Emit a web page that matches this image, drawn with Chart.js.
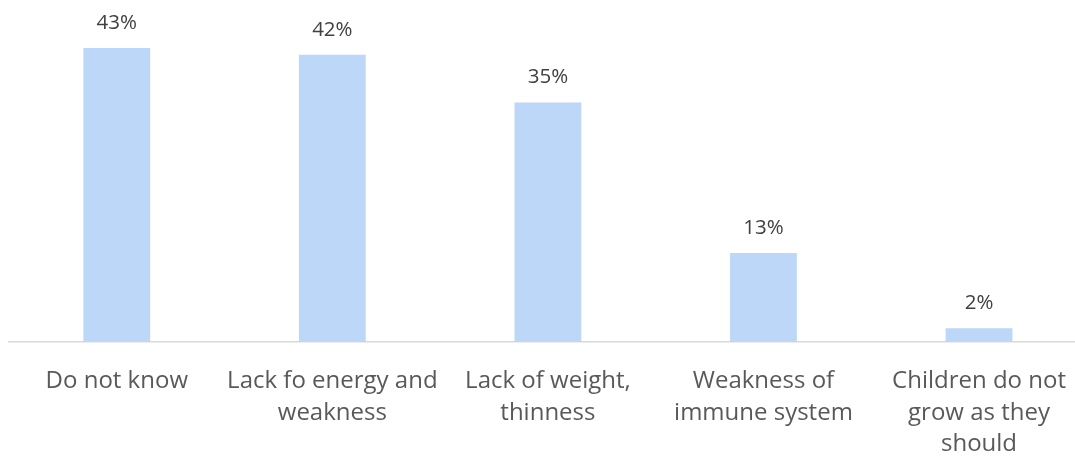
<!DOCTYPE html>
<html lang="en">
<head>
    <meta charset="utf-8">
    <script src="https://cdn.jsdelivr.net/npm/chart.js"></script>
    <style>
        html, body { margin: 0; padding: 0; background: #fff; overflow: hidden; }
        #wrap { width: 1090px; height: 457px; }
    </style>
</head>
<body>

<div id="wrap">
    <canvas id="myChart"></canvas>
</div>
<script>
    const categories = [
        ['Do not know'],
        ['Lack fo energy and', 'weakness'],
        ['Lack of weight,', 'thinness'],
        ['Weakness of', 'immune system'],
        ['Children do not', 'grow as they', 'should']
    ];
    const shares = [43, 42, 35, 13, 2];

    // percent text above every bar
    const barValues = {
        id: 'barValues',
        afterDatasetsDraw(chart) {
            const ctx = chart.ctx;
            const meta = chart.getDatasetMeta(0);
            ctx.save();
            ctx.font = '20.5px "Open Sans"';
            ctx.fillStyle = '#404040';
            ctx.textAlign = 'center';
            ctx.textBaseline = 'middle';
            meta.data.forEach((bar, i) => {
                ctx.fillText(shares[i] + '%', bar.x, bar.y - 25);
            });
            ctx.restore();
        }
    };

    const ctx = document.getElementById('myChart');
    const myChart = new Chart(ctx, {
        type: 'bar',
        data: {
            labels: categories,
            datasets: [{
                data: shares,
                backgroundColor: '#bdd7f8',
                barPercentage: 0.31,
                categoryPercentage: 1
            }]
        },
        options: {
            responsive: true,
            maintainAspectRatio: false,
            animation: false,
            layout: { padding: { left: 9, right: 0, top: 0, bottom: 0 } },
            plugins: {
                legend: { display: false },
                tooltip: { enabled: false }
            },
            scales: {
                x: {
                    grid: { display: false, drawTicks: false },
                    border: { color: '#d9d9d9', width: 1.5 },
                    ticks: {
                        color: '#595959',
                        font: { family: 'Open Sans', size: 24, lineHeight: 1.3 },
                        padding: 24,
                        maxRotation: 0,
                        autoSkip: false
                    },
                    afterFit(scale) { scale.height = 115; }
                },
                y: {
                    display: false,
                    min: 0,
                    max: 50
                }
            }
        },
        plugins: [barValues]
    });
</script>
</body>
</html>
